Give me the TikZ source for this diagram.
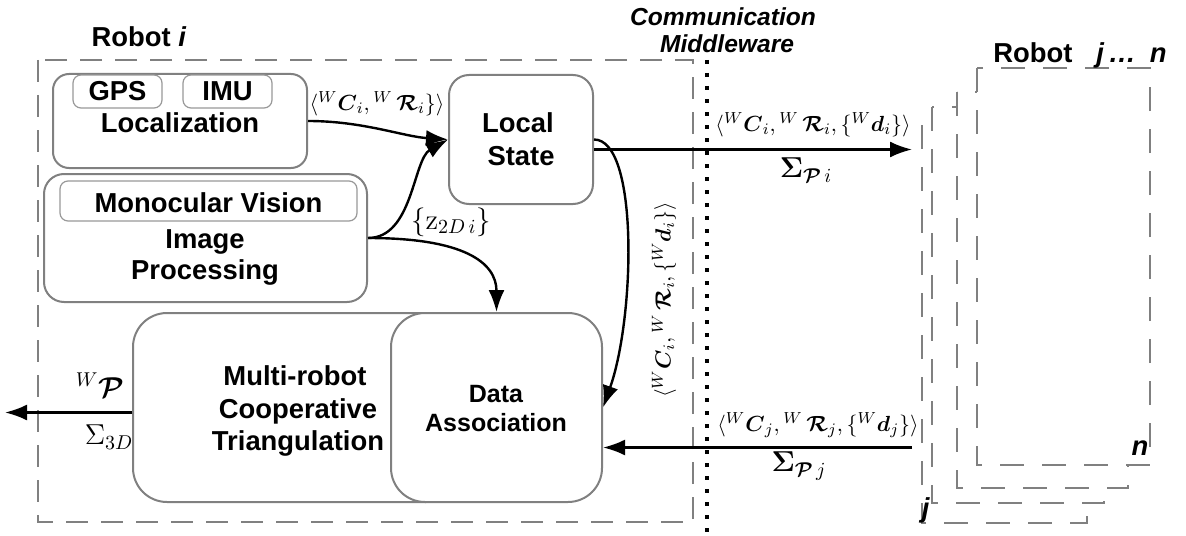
\documentclass[tikz,border=0pt]{standalone}
\usepackage{amsmath}
\usepackage[no-math]{fontspec}
\newfontfamily\lsans{Liberation Sans}
\usetikzlibrary{arrows.meta,calc}
\begin{document}
\begin{tikzpicture}[x=0.5pt,y=-0.5pt,
  frame/.style={draw=black!50, line width=1pt, dash pattern=on 11pt off 6.5pt},
  jframe/.style={draw=black!50, line width=1pt, dash pattern=on 12pt off 9pt, fill=white},
  box/.style={draw=black!50, line width=1pt, rounded corners=9pt, fill=white, inner sep=0pt},
  bigbox/.style={box, rounded corners=17pt},
  subbox/.style={draw=black!40, line width=0.6pt, rounded corners=4pt, inner sep=0pt},
  lbl/.style={font=\lsans\bfseries\fontsize{13.7}{16}\selectfont, inner sep=0pt, anchor=base},
  slbl/.style={font=\lsans\bfseries\fontsize{12.5}{14}\selectfont, inner sep=0pt, anchor=base},
  ilbl/.style={font=\lsans\bfseries\itshape\fontsize{12.3}{14}\selectfont, inner sep=0pt, anchor=base},
  conn/.style={line width=1.2pt, -{Latex[length=11pt,width=8pt]}},
  mlab/.style={inner sep=0pt, font=\fontsize{11.3}{13}\selectfont},
  blab/.style={inner sep=0pt, font=\fontsize{14}{16}\selectfont}
]
\useasboundingbox (0,0) rectangle (1186,535);

% Robot i frame
\draw[frame] (38,60) rectangle (693,522);
\node[lbl] (robi) at (139,47) {Robot \textit{i}};

% Robot j..n stacked frames (back to front)
\draw[jframe] (922,125) rectangle (1087,523);
\draw[jframe] (932,107) rectangle (1104,503);
\draw[jframe] (957,92) rectangle (1128,488);
\draw[jframe] (977,68) rectangle (1150,465);
\node[lbl] (robj) at (1080,63) {Robot\hspace{12pt}\textit{j}\hspace{2pt}\textit{…}\hspace{7pt}\textit{n}};
\node[lbl] (lj) at (926,517) {\textit{j}};
\node[lbl] (ln) at (1140,455) {\textit{n}};

% Communication middleware
\coordinate (mwtop) at (707,60);
\coordinate (mwbot) at (707,535);
\draw[line width=2pt, dash pattern=on 2pt off 4.5pt] (mwtop) -- (mwbot);
\node[ilbl] (cm1) at (723,26) {Communication};
\node[ilbl] (cm2) at (727,53) {Middleware};

% Localization
\node[box, rounded corners=8pt, minimum width=127pt, minimum height=47pt] (lo) at (180,121) {};
\node[subbox, minimum width=44.5pt, minimum height=16.5pt] (gps) at (117.5,91.5) {};
\node[subbox, minimum width=44.5pt, minimum height=16.5pt] (imu) at (227.5,91.5) {};
\node[lbl] (tgps) at (117.5,100) {GPS};
\node[lbl] (timu) at (227.5,100) {IMU};
\node[lbl] (tlo) at (180,132) {Localization};

% Image processing
\node[box, rounded corners=10pt, minimum width=161.5pt, minimum height=64pt] (ip) at (205.5,238) {};
\node[subbox, minimum width=148.5pt, minimum height=20pt] (mv) at (208.5,201) {};
\node[lbl] (tmv) at (208.5,212) {Monocular Vision};
\node[lbl] (tip1) at (205,248) {Image};
\node[lbl] (tip2) at (205,279) {Processing};

% Local state
\node[box, rounded corners=10pt, minimum width=72pt, minimum height=64.5pt] (ls) at (521,139.5) {};
\node[lbl] (tls1) at (518,133) {Local};
\node[lbl] (tls2) at (521,165) {State};

% Multi-robot triangulation and data association
\node[bigbox, minimum width=163.5pt, minimum height=94.5pt] (mr) at (296.5,407.5) {};
\node[lbl] (tmr1) at (295,385) {Multi-robot};
\node[lbl] (tmr2) at (298,418) {Cooperative};
\node[lbl] (tmr3) at (298,450) {Triangulation};
\node[bigbox, minimum width=105.5pt, minimum height=94.5pt] (da) at (496.5,407.5) {};
\node[slbl] (tda1) at (496,402) {Data};
\node[slbl] (tda2) at (496,431) {Association};

% connectors
\draw[conn] (lo.east) .. controls +(55,0) and +(-45,-3) .. (ls.west);
\draw[conn] (ip.east) .. controls +(45,0) and +(-35,20) .. (ls.west);
\draw[conn] (ip.east) .. controls +(95,0) and +(0,-50) .. (da.north);
\draw[conn] (ls.east) .. controls +(45,0) and +(32,-90) .. (da.east);

\coordinate (rjin) at (912,149.5);
\coordinate (rjout) at (912,447.5);
\coordinate (p3d) at (5,412.5);
\draw[conn] ($(ls.east)+(0,10)$) -- (rjin);
\draw[conn] (rjout) -- ($(da.east)+(0,40)$);
\draw[conn] ($(mr.west)+(0,5)$) -- (p3d);

% labels
\node[mlab] (l1) at (377,104) {$\langle{}^{W}\boldsymbol{C}_i,{}^{W}\,\boldsymbol{\mathcal{R}}_i\}\rangle$};
\node[blab] (lz) at (451,222) {$\{\mathrm{z}_{2D\,i}\}$};
\node[mlab] (l2) at (813,125) {$\langle{}^{W}\boldsymbol{C}_i,{}^{W}\,\boldsymbol{\mathcal{R}}_i,\{{}^{W}\boldsymbol{d}_i\}\rangle$};
\node[blab] (s2) at (806,170) {$\boldsymbol{\Sigma}_{\boldsymbol{\mathcal{P}}\,i}$};
\node[mlab] (l3) at (818,425) {$\langle{}^{W}\boldsymbol{C}_j,{}^{W}\,\boldsymbol{\mathcal{R}}_j,\{{}^{W}\boldsymbol{d}_j\}\rangle$};
\node[blab] (s3) at (799,466) {$\boldsymbol{\Sigma}_{\boldsymbol{\mathcal{P}}\,j}$};
\node[mlab, rotate=90] (l4) at (664,300) {$\langle{}^{W}\boldsymbol{C}_i,{}^{W}\,\boldsymbol{\mathcal{R}}_i,\{{}^{W}\boldsymbol{d}_i\}\rangle$};
\node[blab] (lp) at (100,385) {${}^{W}\boldsymbol{\mathcal{P}}$};
\node[blab] (l3d) at (109,437) {$\Sigma_{3D}$};
\end{tikzpicture}
\end{document}
